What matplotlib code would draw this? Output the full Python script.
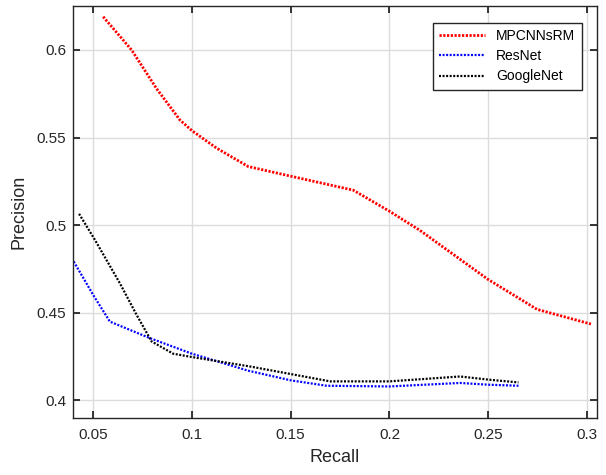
import numpy as np
from matplotlib import pyplot as plt

plt.rcParams['font.family'] = ['Liberation Sans', 'DejaVu Sans']

# values
mp_recall = [0.0551, 0.0695, 0.0821, 0.094, 0.1, 0.1125, 0.1285, 0.15, 0.1817,
             0.2, 0.2155, 0.25, 0.2747, 0.302]
mp_prec = [0.619, 0.600, 0.578, 0.560, 0.554, 0.544, 0.5335, 0.528, 0.520,
           0.508, 0.497, 0.469, 0.452, 0.4436]

res_recall = [0.0402, 0.05, 0.0585, 0.0686, 0.0787, 0.1, 0.1285, 0.15, 0.1682,
              0.2, 0.2358, 0.25, 0.2653]
res_prec = [0.4793, 0.4603, 0.445, 0.4403, 0.4356, 0.4267, 0.417, 0.4115, 0.4084,
            0.408, 0.410, 0.409, 0.4084]

goo_recall = [0.0429, 0.0509, 0.0635, 0.072, 0.0796, 0.0905, 0.1, 0.1294, 0.15,
              0.17, 0.2, 0.2358, 0.25, 0.2653]
goo_prec = [0.5065, 0.4917, 0.467, 0.4489, 0.4337, 0.4267, 0.4248, 0.4194, 0.4151,
            0.4109, 0.4109, 0.4137, 0.4119, 0.4103]

xticks = [0.05, 0.1, 0.15, 0.2, 0.25, 0.3]
yticks = [0.4, 0.45, 0.5, 0.55, 0.6]

fig = plt.figure(figsize=(6.06, 4.75), dpi=100)
ax = fig.add_axes([0.121, 0.12, 0.864, 0.867])

ax.plot(mp_recall, mp_prec, color='#ff0000', lw=2.0, dashes=(0.8, 0.55),
        dash_capstyle='butt', label='MPCNNsRM')
ax.plot(res_recall, res_prec, color='#0000ff', lw=1.6, dashes=(0.9, 0.7),
        dash_capstyle='butt', label='ResNet')
ax.plot(goo_recall, goo_prec, color='#000000', lw=1.6, dashes=(0.9, 0.7),
        dash_capstyle='butt', label='GoogleNet')

ax.set_xlim(0.04, 0.305)
ax.set_ylim(0.39, 0.625)
ax.set_xticks(xticks)
ax.set_xticklabels(['0.05', '0.1', '0.15', '0.2', '0.25', '0.3'])
ax.set_yticks(yticks)
ax.set_yticklabels(['0.4', '0.45', '0.5', '0.55', '0.6'])

ax.grid(True, color='#dcdcdc', lw=1.0)
ax.set_axisbelow(True)
for s in ax.spines.values():
    s.set_color('#262626')
    s.set_linewidth(1.0)
ax.tick_params(direction='in', length=5, width=1.3, colors='#262626',
               labelsize=11, top=True, right=True)
ax.tick_params(axis='x', pad=7)
ax.tick_params(axis='y', pad=5)

ax.set_xlabel('Recall', fontsize=13, color='#262626', labelpad=5)
ax.set_ylabel('Precision', fontsize=13, color='#262626', labelpad=7)

leg = ax.legend(loc='upper right', bbox_to_anchor=(0.971, 0.960), fontsize=10,
                fancybox=False, framealpha=1, edgecolor='#262626',
                handlelength=3.3, handletextpad=0.8, borderpad=0.45,
                labelspacing=0.45, borderaxespad=0)
leg.get_frame().set_linewidth(1.0)

plt.savefig('out.png', dpi=100)
